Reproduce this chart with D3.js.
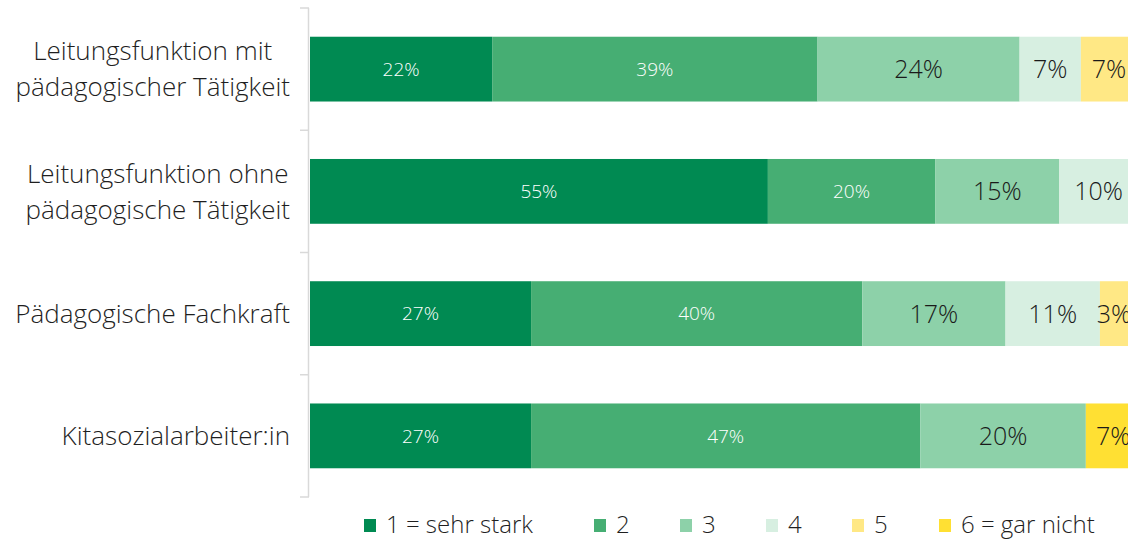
<!DOCTYPE html>
<html><head><meta charset="utf-8">
<script src="https://cdn.jsdelivr.net/npm/d3@7"></script>
<style>
html,body{margin:0;padding:0;background:#fff;}
svg{display:block;font-family:"Open Sans",Lato,sans-serif;font-weight:300;}
</style></head>
<body>
<svg id="chart" width="1128" height="542"></svg>
<script>
const categories = [
  ["Leitungsfunktion mit", "pädagogischer Tätigkeit"],
  ["Leitungsfunktion ohne", "pädagogische Tätigkeit"],
  ["Pädagogische Fachkraft"],
  ["Kitasozialarbeiter:in"]
];
const seriesNames = ["1 = sehr stark", "2", "3", "4", "5", "6 = gar nicht"];
const s1 = [22, 55.3, 26.7, 26.7];
const s2 = [39.3, 20.2, 40, 47];
const s3 = [24.4, 15, 17.3, 20];
const s4 = [7.4, 9.5, 11.4, 0];
const s5 = [6.8, 0, 3.4, 0];
const s6 = [0, 0, 0, 6.6];
const seriesValues = [s1, s2, s3, s4, s5, s6];
const colors = ["#008A52", "#46AE73", "#8DD1A9", "#D7EFE1", "#FFE885", "#FFE033"];

const svg = d3.select("#chart");
const x = d3.scaleLinear().domain([0, 100]).range([310, 1138]);
const y = d3.scaleBand().domain(d3.range(categories.length)).range([8, 497]).paddingInner(0.47).paddingOuter(0.235);

// axis line with ticks at band boundaries
const step = y.step();
const axisG = svg.append("g");
axisG.append("line").attr("x1", 308.5).attr("x2", 308.5).attr("y1", 8).attr("y2", 497)
  .attr("stroke", "#d9d9d9").attr("stroke-width", 1.5);
d3.range(categories.length + 1).forEach(i => {
  const yy = 8 + i * step;
  axisG.append("line").attr("x1", 300).attr("x2", 309).attr("y1", yy).attr("y2", yy)
    .attr("stroke", "#d9d9d9").attr("stroke-width", 1.5);
});

// stacked bars
const rows = categories.map((c, i) => {
  let acc = 0;
  return seriesValues.map((vals, s) => {
    const v = vals[i];
    const seg = {row: i, s, v, x0: acc, x1: acc + v};
    acc += v;
    return seg;
  });
});
const segs = rows.flat().filter(d => d.v > 0);
svg.append("g").selectAll("rect").data(segs).join("rect")
  .attr("x", d => x(d.x0))
  .attr("width", d => x(d.x1) - x(d.x0))
  .attr("y", d => y(d.row))
  .attr("height", y.bandwidth())
  .attr("fill", d => colors[d.s]);

svg.append("g").selectAll("text").data(segs).join("text")
  .attr("x", d => (x(d.x0) + x(d.x1)) / 2)
  .attr("y", d => y(d.row) + y.bandwidth() / 2)
  .attr("dy", "0.36em")
  .attr("text-anchor", "middle")
  .attr("font-size", d => d.s < 2 ? 19 : 25)
  .attr("fill", d => d.s < 2 ? "#ffffff" : "#1a1a1a")
  .text(d => Math.round(d.v) + "%");

// category labels
categories.forEach((lines, i) => {
  const cy = y(i) + y.bandwidth() / 2;
  const g = svg.append("g");
  const texts = lines.map((l, j) => g.append("text")
    .attr("y", cy + (j - (lines.length - 1) / 2) * 36)
    .attr("dy", "0.36em")
    .attr("font-size", 26)
    .attr("fill", "#1f1f1f")
    .attr("text-anchor", "middle")
    .text(l));
  const maxW = d3.max(texts, t => t.node().getComputedTextLength());
  texts.forEach(t => t.attr("x", 290 - maxW / 2));
});

// legend
const legendX = [364, 594, 680, 766, 852, 939];
const lg = svg.append("g");
seriesNames.forEach((n, i) => {
  lg.append("rect").attr("x", legendX[i]).attr("y", 519).attr("width", 12).attr("height", 13).attr("fill", colors[i]);
  lg.append("text").attr("x", legendX[i] + 22).attr("y", 533).attr("font-size", 24)
    .attr("fill", "#1f1f1f").text(n);
});
</script>
</body></html>
